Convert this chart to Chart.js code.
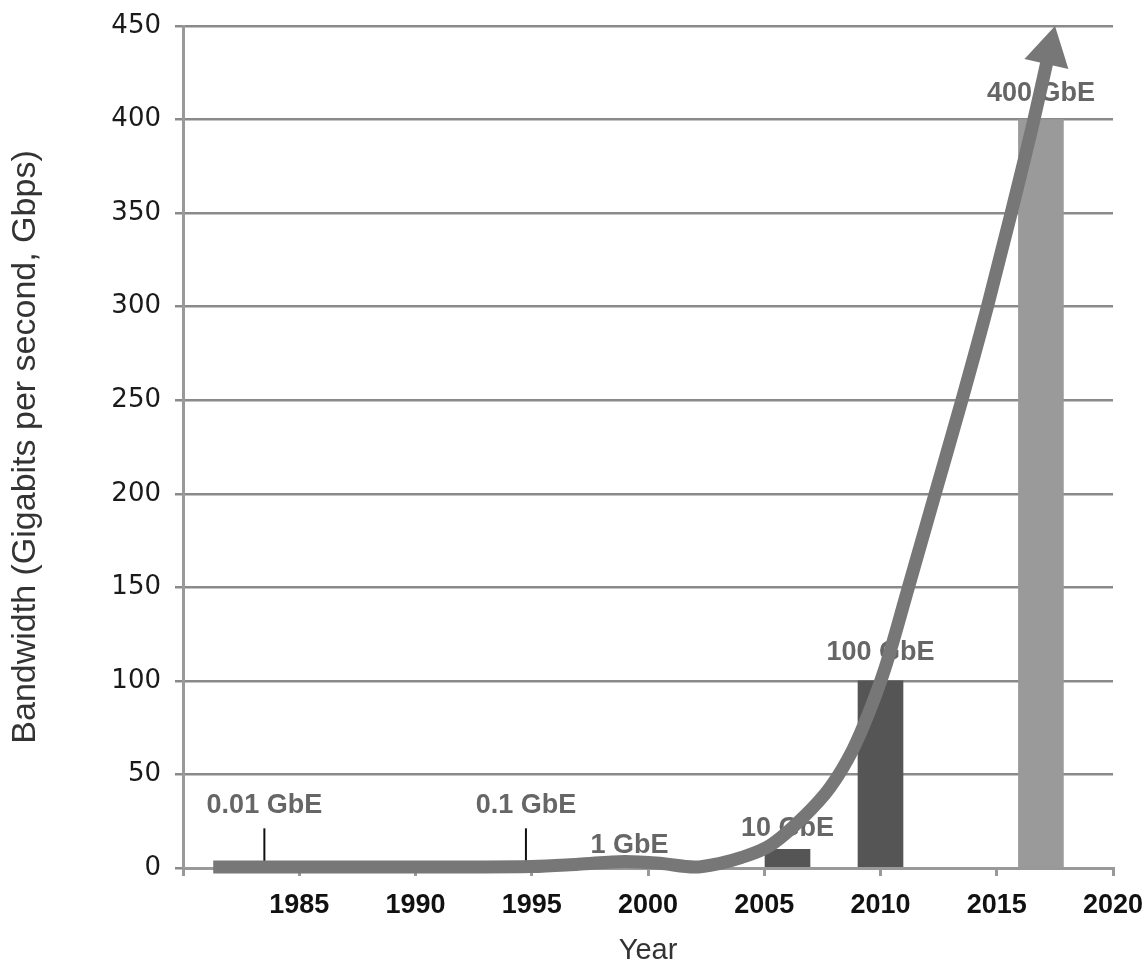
<!DOCTYPE html>
<html>
<head>
<meta charset="utf-8">
<script src="https://cdn.jsdelivr.net/npm/chart.js@4.4.1/dist/chart.umd.min.js"></script>
<style>
  body { margin: 0; background: #fff; }
  #wrap { width: 1146px; height: 972px; position: relative; }
</style>
</head>
<body>
<div id="wrap"><canvas id="bwChart"></canvas></div>
<script>
// Ethernet standards
const standards = ["0.01 GbE", "0.1 GbE", "1 GbE", "10 GbE", "100 GbE", "400 GbE"];
const standardYears = [1983.5, 1994.75, 1999.2, 2006, 2010, 2016.9];
const standardSpeeds = [0.01, 0.1, 1, 10, 100, 400];

// trend arrow
const trendYears = [1981.3, 1990, 1995, 1997, 1999, 2000.5, 2002, 2003.1, 2004, 2005.25, 2006.67,
  2007.83, 2008.8, 2009.5, 2010.2, 2011.2, 2012.35, 2013.5, 2014.6, 2015.62, 2016.6, 2017.26];
const trendValues = [0.5, 0.5, 0.8, 2, 3.5, 2.5, 0.5, 2.5, 5.5, 12, 27,
  43, 63, 83, 107, 150, 200, 250, 300, 350, 400, 436.5];

const yTicks = [0, 50, 100, 150, 200, 250, 300, 350, 400, 450];
const xTicks = [1980, 1985, 1990, 1995, 2000, 2005, 2010, 2015, 2020];

// only the three biggest get a visible bar
const barIdx = [3, 4, 5];
const barColors = ["#555555", "#555555", "#9a9a9a"];

// where the labels sit (value level of label centre), and which get a marker line
const labelLevel = [33.5, 33.5, 12, 21, 115, 414];
const markerLine = [true, true, false, false, false, false];

const labelPlugin = {
  id: "gbeLabels",
  beforeDatasetsDraw(chart) {
    const { ctx, scales: { x, y } } = chart;
    ctx.save();
    ctx.font = "bold 27px 'Liberation Sans', Arial, sans-serif";
    ctx.fillStyle = "#666";
    ctx.textAlign = "center";
    ctx.textBaseline = "middle";
    standards.forEach((s, i) => {
      const px = x.getPixelForValue(standardYears[i]);
      const py = y.getPixelForValue(labelLevel[i]);
      ctx.fillText(s, px, py);
      if (markerLine[i]) {
        ctx.strokeStyle = "#111";
        ctx.lineWidth = 2;
        ctx.beginPath();
        ctx.moveTo(px, py + 23);
        ctx.lineTo(px, y.getPixelForValue(0) - 5);
        ctx.stroke();
      }
    });
    ctx.restore();
  }
};

const ctx = document.getElementById("bwChart").getContext("2d");
new Chart(ctx, {
  data: {
    datasets: [
      {
        type: "line",
        order: 0,
        data: trendYears.map((yr, i) => ({ x: yr, y: trendValues[i] })),
        borderColor: "#777777",
        borderWidth: 13,
        cubicInterpolationMode: "monotone",
        pointStyle: "triangle",
        pointRadius: trendYears.map((_, i) => (i === trendYears.length - 1 ? 26 : 0)),
        pointRotation: 12.7,
        pointBackgroundColor: "#777777",
        pointBorderWidth: 0,
        clip: false
      },
      {
        type: "bar",
        order: 1,
        data: barIdx.map(i => ({ x: standardYears[i], y: standardSpeeds[i] })),
        backgroundColor: barColors,
        barThickness: 45
      }
    ]
  },
  options: {
    responsive: true,
    maintainAspectRatio: false,
    animation: false,
    layout: { padding: { top: 19, right: 33, left: 0, bottom: 0 } },
    plugins: { legend: { display: false }, tooltip: { enabled: false } },
    scales: {
      x: {
        type: "linear",
        min: 1980,
        max: 2020,
        offset: false,
        afterBuildTicks: s => { s.ticks = xTicks.map(v => ({ value: v })); },
        afterFit: s => { s.height = 104; s.paddingLeft = 0; s.paddingRight = 0; },
        ticks: {
          callback: v => (v === 1980 ? "" : String(v)),
          font: { family: "'Liberation Sans', Arial, sans-serif", size: 27, weight: "bold" },
          color: "#111",
          padding: 13,
          maxRotation: 0
        },
        grid: { offset: false, drawOnChartArea: false, drawTicks: true, tickLength: 8, color: "#999", lineWidth: 3 },
        border: { color: "#999", width: 3 },
        title: {
          display: true,
          text: "Year",
          font: { family: "'Liberation Sans', Arial, sans-serif", size: 29 },
          color: "#333",
          padding: { top: 4, bottom: 4 }
        }
      },
      y: {
        min: 0,
        max: 450,
        afterBuildTicks: s => { s.ticks = yTicks.map(v => ({ value: v })); },
        afterFit: s => { s.width = 183; s.paddingTop = 0; s.paddingBottom = 0; },
        ticks: {
          font: { family: "'DejaVu Sans', Verdana, sans-serif", size: 26 },
          color: "#1a1a1a",
          padding: 14
        },
        grid: { color: "#8a8a8a", lineWidth: 2.5, tickLength: 8 },
        border: { color: "#999", width: 3 },
        title: {
          display: true,
          text: "Bandwidth (Gigabits per second, Gbps)",
          font: { family: "'Liberation Sans', Arial, sans-serif", size: 34 },
          color: "#333",
          padding: { top: 5, bottom: 4 }
        }
      }
    }
  },
  plugins: [labelPlugin]
});
</script>
</body>
</html>
